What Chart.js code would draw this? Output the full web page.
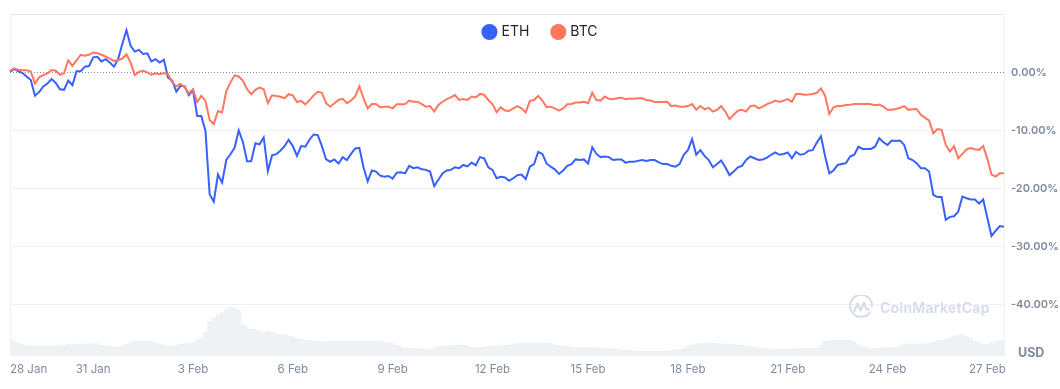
<!DOCTYPE html>
<html>
<head>
<meta charset="utf-8">
<script src="https://cdn.jsdelivr.net/npm/chart.js@4"></script>
<style>
  body { margin: 0; background: #fff; }
  #wrap { position: relative; width: 1060px; height: 389px; font-family: Inter, sans-serif; }
  #usd { position: absolute; left: 1018px; top: 345px; font-size: 12.5px; font-weight: 700; color: #808a9d; }
  #mark { position: absolute; left: 849px; top: 295px; width: 24px; height: 24px; }
  #brand { position: absolute; left: 880px; top: 299px; font-size: 14px; font-weight: 600; letter-spacing: 0.3px; color: #d5dbe7; }
</style>
</head>
<body>
<div id="wrap">
  <canvas id="cnv" width="1060" height="389"></canvas>
  <svg id="mark" viewBox="0 0 24 24" fill="none" stroke="#d5dbe7" stroke-width="2">
    <path d="M21.5 16.5A11 11 0 1 1 23 12"/>
    <path d="M5 17l3.5-8.5 3 7 3.5-8 2 6c.6 1.6 3 1.4 3.500-.5" stroke-linejoin="round"/>
  </svg>
  <span id="brand">CoinMarketCap</span>
  <span id="usd">USD</span>
</div>
<script>
// % change since start, one reading every ~3 hours
const ethValues = [
  0.1, 0.6, 0.2, -0.1, -0.7, -1.3, -4.0, -3.4, -2.4, -1.9,
  -1.15, -1.8, -2.9, -3.0, -1.4, -2.2, 0.2, 0.2, 1.0, 1.1,
  2.6, 2.7, 1.9, 2.3, 1.7, 1.0, 2.3, 4.9, 7.3, 4.6,
  3.6, 3.9, 3.2, 3.3, 1.9, 2.3, 1.7, 2.2, -0.9, -1.4,
  -3.3, -2.3, -2.4, -3.9, -3.0, -7.5, -7.5, -10.1, -21.0, -22.3,
  -17.6, -19.0, -15.1, -14.1, -13.0, -10.0, -12.0, -15.3, -15.3, -12.2,
  -12.4, -11.2, -17.0, -14.3, -14.1, -13.5, -12.7, -11.6, -12.7, -14.4,
  -12.7, -12.8, -11.6, -10.7, -10.8, -12.7, -15.0, -15.4, -15.0, -15.7,
  -14.6, -15.1, -14.05, -13.1, -13.0, -16.35, -18.8, -16.9, -17.1, -17.8,
  -18.0, -17.85, -18.3, -17.3, -17.2, -17.4, -16.1, -16.5, -16.35, -16.7,
  -16.8, -17.1, -19.6, -18.5, -17.4, -16.9, -16.8, -16.35, -16.5, -15.95,
  -16.2, -15.55, -16.0, -14.6, -14.8, -16.35, -16.8, -18.25, -18.0, -18.1,
  -18.7, -18.25, -17.7, -17.6, -18.4, -16.25, -15.8, -13.7, -14.05, -15.7,
  -16.25, -16.7, -17.5, -16.9, -16.1, -15.8, -15.0, -15.1, -15.0, -15.7,
  -12.9, -14.05, -14.6, -14.5, -14.6, -15.1, -15.0, -15.0, -15.55, -15.4,
  -15.4, -15.25, -15.1, -15.25, -15.1, -15.1, -15.5, -15.8, -15.8, -16.1,
  -16.25, -15.8, -14.2, -13.4, -11.5, -14.2, -13.4, -14.4, -15.1, -16.35,
  -15.8, -15.2, -16.35, -17.7, -17.1, -16.35, -16.1, -15.1, -14.5, -14.8,
  -15.1, -15.0, -14.7, -14.2, -13.8, -14.2, -14.05, -13.8, -14.8, -13.7,
  -14.2, -14.05, -13.5, -13.4, -12.1, -11.0, -14.5, -17.4, -16.9, -15.95,
  -15.8, -15.65, -14.5, -14.2, -12.8, -13.2, -13.2, -13.2, -12.8, -11.35,
  -12.05, -12.5, -11.75, -11.8, -11.75, -12.5, -14.8, -15.1, -15.65, -16.5,
  -16.5, -17.1, -21.1, -21.5, -21.5, -25.4, -24.9, -24.8, -24.0, -21.4,
  -21.7, -21.9, -21.9, -22.6, -21.9, -25.1, -28.2, -27.3, -26.5, -26.6
];
const btcValues = [
  0.3, 0.7, 0.45, 0.4, 0.4, 0.15, -1.9, -0.85, -0.45, -0.15,
  0.4, 0.3, -0.4, -0.15, 2.1, 1.15, 2.1, 3.05, 2.9, 3.05,
  3.45, 3.3, 3.05, 2.75, 2.4, 2.0, 2.1, 2.4, 3.15, 1.7,
  -0.45, 0.1, 0.3, 0.0, -0.4, -0.15, -0.3, -0.1, -0.3, -1.7,
  -2.4, -2.0, -2.6, -3.6, -2.9, -5.1, -4.05, -4.9, -8.2, -8.9,
  -6.65, -6.9, -3.2, -1.75, -0.5, -0.7, -1.45, -2.9, -3.75, -3.0,
  -2.6, -2.9, -5.3, -3.95, -4.05, -4.2, -4.45, -3.75, -3.95, -5.1,
  -4.9, -5.5, -4.8, -3.95, -3.35, -3.5, -5.3, -5.9, -5.3, -4.75,
  -4.55, -5.3, -4.85, -4.15, -2.4, -4.45, -6.2, -5.45, -5.45, -6.0,
  -5.9, -5.9, -6.2, -5.5, -5.5, -5.45, -4.85, -5.05, -5.05, -5.45,
  -5.9, -5.8, -6.75, -5.6, -5.05, -4.6, -4.3, -3.9, -4.75, -4.6,
  -4.75, -4.15, -4.3, -3.7, -3.85, -4.75, -5.45, -6.85, -6.0, -6.55,
  -6.65, -6.2, -5.8, -6.2, -6.9, -4.9, -4.75, -4.05, -4.85, -6.0,
  -5.9, -6.2, -6.6, -6.2, -5.5, -5.45, -5.2, -5.2, -5.05, -5.3,
  -3.5, -4.75, -4.85, -4.15, -4.55, -4.6, -4.45, -4.35, -4.6, -4.5,
  -4.55, -4.45, -4.45, -4.75, -4.85, -5.1, -5.1, -5.1, -5.05, -5.8,
  -5.7, -5.9, -5.9, -5.8, -5.45, -6.45, -5.8, -6.35, -6.1, -6.75,
  -6.45, -5.8, -6.75, -8.05, -7.3, -6.6, -6.45, -6.75, -5.8, -5.7,
  -6.2, -5.9, -5.45, -5.2, -4.85, -5.1, -4.85, -4.6, -5.05, -3.7,
  -3.7, -3.85, -3.8, -3.7, -3.5, -2.75, -4.05, -7.15, -6.0, -5.8,
  -5.8, -5.6, -5.55, -5.45, -5.45, -5.45, -5.4, -5.5, -5.65, -5.55,
  -5.9, -6.45, -6.45, -6.3, -6.1, -5.8, -6.45, -6.35, -6.3, -7.3,
  -7.8, -8.3, -10.5, -9.75, -9.9, -12.5, -13.65, -12.7, -14.8, -14.05,
  -13.25, -13.05, -13.25, -13.35, -12.7, -14.9, -17.6, -17.95, -17.4, -17.4
];
const volumeValues = [
  17.5, 15, 13, 11.5, 10.5, 10, 10, 10, 10, 10,
  10, 10, 10, 11, 12, 11.5, 12, 12, 12, 12,
  12.5, 12.5, 11, 10, 10, 9, 9, 10, 11.5, 13,
  15, 15, 15, 15, 14.5, 13, 11.5, 10.5, 9.5, 10,
  11, 12, 12, 13, 13.5, 16, 18, 24, 35, 38,
  41, 43.5, 46, 48.6, 47.5, 46, 31, 29, 27, 26.5,
  25, 24, 24.5, 24, 22.5, 21.6, 21, 20, 19.5, 18,
  16.5, 16, 15.5, 15, 14.5, 14, 14.5, 15, 15, 15,
  15, 15, 15, 15, 15, 15, 15, 15, 15, 15,
  14, 13.5, 12.5, 11, 9.5, 8, 8, 7.5, 7.5, 7,
  6.5, 6.5, 8, 9.5, 10, 10, 10.5, 10.5, 11, 11,
  10, 9, 8.5, 8.5, 9, 9.5, 10, 10, 10, 10.5,
  11, 12, 12.5, 13, 13, 13, 13, 13, 13, 13,
  12.5, 11.5, 11, 10, 9.5, 9, 8.5, 8.5, 8.5, 8.5,
  8.5, 8.5, 8, 8, 7.5, 7, 7, 6, 6, 5.5,
  5, 4.7, 4.7, 4.7, 4.7, 4.7, 4.7, 4.7, 5, 5.5,
  6, 6.7, 7.5, 10, 11, 12, 12.5, 13, 13, 13,
  12.5, 12, 12, 12, 11.5, 11, 10.5, 10, 9.5, 9,
  8, 7.5, 7, 6.7, 6.7, 6.7, 6.7, 7, 7, 7,
  7.5, 7.5, 7.5, 7.7, 8, 11, 14.5, 15.5, 16, 16,
  16, 16, 16, 14, 11, 9.5, 8.5, 7.5, 7.4, 7.5,
  8.5, 8.8, 8.8, 9, 9.5, 12, 12, 12, 12, 12,
  12, 13, 14, 15.5, 16, 17, 18, 20, 21, 21.6,
  20, 18, 15, 13.5, 12, 12, 13.5, 14.5, 15.5, 15.5
];
const tickIndexes = [0, 20, 44, 68, 92, 116, 139, 163, 187, 211, 235];
const tickLabels = ['28 Jan', '31 Jan', '3 Feb', '6 Feb', '9 Feb', '12 Feb', '15 Feb', '18 Feb', '21 Feb', '24 Feb', '27 Feb'];
const percentTicks = [10.08, 0, -10, -20, -30, -40];

const ETH_COLOR = '#3861fb';
const BTC_COLOR = '#ff775f';
const GRID_COLOR = '#eff2f5';
const TEXT_COLOR = '#808a9d';

// legend sits on top of the plot, so it must not take any layout height
const legendOverlay = {
  id: 'legendOverlay',
  beforeInit(chart) {
    const fit = chart.legend.fit;
    chart.legend.fit = function () {
      fit.call(this);
      this.height = 0;
    };
  },
  afterLayout(chart) {
    chart.legend.left += 6;
    chart.legend.right += 6;
    chart.legend.top -= 13;
    // the legend clips to its box when drawing
    chart.legend.bottom = chart.legend.top + 40;
  }
};

function drawChart() {
  const ctx = document.getElementById('cnv').getContext('2d');
  new Chart(ctx, {
    type: 'line',
    plugins: [legendOverlay],
    data: {
      labels: ethValues.map((v, i) => i),
      datasets: [
        { label: 'ETH', data: ethValues, borderColor: ETH_COLOR, backgroundColor: ETH_COLOR, borderWidth: 2, pointRadius: 0, tension: 0, order: 2 },
        { label: 'BTC', data: btcValues, borderColor: BTC_COLOR, backgroundColor: BTC_COLOR, borderWidth: 2, pointRadius: 0, tension: 0, order: 1 },
        { type: 'bar', label: 'Volume', data: volumeValues, yAxisID: 'vol', backgroundColor: GRID_COLOR, barPercentage: 1, categoryPercentage: 1, order: 3 }
      ]
    },
    options: {
      responsive: false,
      animation: false,
      layout: { padding: { left: 10, top: 14 } },
      plugins: {
        tooltip: { enabled: false },
        legend: {
          position: 'top',
          labels: {
            usePointStyle: true,
            boxHeight: 10,
            boxWidth: 10,
            padding: 24,
            color: '#222531',
            font: { family: 'Inter', size: 14 },
            filter: item => item.text !== 'Volume',
            sort: (a, b) => a.datasetIndex - b.datasetIndex
          }
        }
      },
      scales: {
        x: {
          offset: false,
          grid: {
            offset: false,
            drawTicks: false,
            color: c => (c.index === 0 ? GRID_COLOR : 'transparent')
          },
          border: { display: false },
          afterBuildTicks: scale => {
            // the empty last tick keeps 27 Feb centred under 'inner' alignment
            scale.ticks = [...tickIndexes, ethValues.length - 1].map(i => ({ value: i }));
          },
          afterFit: scale => { scale.height = 33; },
          ticks: {
            autoSkip: false,
            maxRotation: 0,
            align: 'inner',
            padding: 7,
            color: TEXT_COLOR,
            font: { family: 'Inter', size: 11.5 },
            callback: v => {
              const pos = tickIndexes.indexOf(v);
              return pos < 0 ? '' : tickLabels[pos];
            }
          }
        },
        y: {
          position: 'right',
          min: -48.9,
          max: 10.08,
          grid: {
            drawTicks: false,
            color: c => {
              if (c.tick && c.tick.value === 0) return TEXT_COLOR;
              if (c.tick && c.tick.value > 0) return '#e6e8ec';
              return GRID_COLOR;
            }
          },
          border: {
            color: GRID_COLOR,
            dash: c => (c.tick && c.tick.value === 0 ? [1, 2] : [])
          },
          afterBuildTicks: scale => {
            scale.ticks = percentTicks.map(v => ({ value: v }));
          },
          afterFit: scale => { scale.width = 56; },
          ticks: {
            padding: 7,
            color: TEXT_COLOR,
            font: { family: 'Inter', size: 11, weight: '600' },
            callback: v => (v > 0 ? '' : v.toFixed(2) + '%')
          }
        },
        vol: {
          display: false,
          min: 0,
          max: 342
        }
      }
    }
  });
}

drawChart();
</script>
</body>
</html>
